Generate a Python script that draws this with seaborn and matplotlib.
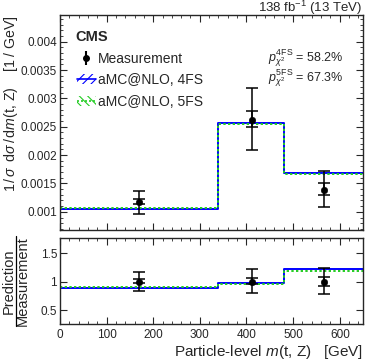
import numpy as np
import pandas as pd
import seaborn as sns
import matplotlib.pyplot as plt
from matplotlib.patches import Patch
from matplotlib.lines import Line2D
from matplotlib.ticker import MultipleLocator

# bin edges of m(t,Z) and the two predictions (normalised)
edges = [0, 340, 480, 650]
pred_4fs = [0.00105, 0.00257, 0.00169]
pred_5fs = [0.00107, 0.00255, 0.00166]

# measurement points with outer (total) and inner (stat) bars
meas_x = [170, 411, 566]
meas_y = [0.001166, 0.00262, 0.00139]
meas_hi = [0.00137, 0.00319, 0.00172]
meas_lo = [0.00097, 0.00209, 0.00109]
meas_in_hi = [0.00122, 0.00278, 0.00150]
meas_in_lo = [0.00114, 0.00250, 0.00129]

# ratio panel
ratio_4fs = [0.895, 0.98, 1.22]
ratio_5fs = [0.91, 0.965, 1.19]
ratio_y = [1.0, 1.0, 1.0]
ratio_hi = [1.175, 1.215, 1.235]
ratio_lo = [0.835, 0.80, 0.785]
ratio_in_hi = [1.045, 1.06, 1.08]
ratio_in_lo = [0.975, 0.955, 0.93]

sns.set_style("ticks")
plt.rcParams['font.family'] = ['Liberation Sans', 'DejaVu Sans']
plt.rcParams['mathtext.fontset'] = 'custom'
plt.rcParams['mathtext.rm'] = 'Liberation Sans'
plt.rcParams['mathtext.it'] = 'Liberation Sans:italic'
plt.rcParams['mathtext.bf'] = 'Liberation Sans:bold'
plt.rcParams['hatch.linewidth'] = 0.8

BLUE = '#0000ff'
GREEN = '#22cc22'

W, H = 374, 363
fig = plt.figure(figsize=(W / 100, H / 100), dpi=100)
ax = fig.add_axes([0.160, 0.3664, 0.811, 0.5923])
rax = fig.add_axes([0.160, 0.1066, 0.811, 0.2369])


def steps(vals):
    return pd.DataFrame({'x': edges, 'y': list(vals) + [vals[-1]]})


def draw_meas(a, x, y, lo, hi, ilo, ihi):
    y = np.array(y)
    a.errorbar(x, y, yerr=[y - np.array(lo), np.array(hi) - y], fmt='none',
               ecolor='black', elinewidth=1.1, capsize=4, capthick=1.1, zorder=5)
    a.errorbar(x, y, yerr=[y - np.array(ilo), np.array(ihi) - y], fmt='none',
               ecolor='black', elinewidth=1.1, capsize=4, capthick=1.1, zorder=5)
    sns.scatterplot(x=x, y=y, ax=a, color='black', s=22, zorder=6, edgecolor='black')


for a, p4, p5 in [(ax, pred_4fs, pred_5fs), (rax, ratio_4fs, ratio_5fs)]:
    sns.lineplot(data=steps(p4), x='x', y='y', ax=a, color=BLUE, lw=1.4,
                 drawstyle='steps-post', estimator=None, sort=False)
    sns.lineplot(data=steps(p5), x='x', y='y', ax=a, color=GREEN, lw=1.4,
                 linestyle=(0, (1.2, 1.2)), drawstyle='steps-post', estimator=None, sort=False)

draw_meas(ax, meas_x, meas_y, meas_lo, meas_hi, meas_in_lo, meas_in_hi)
draw_meas(rax, meas_x, ratio_y, ratio_lo, ratio_hi, ratio_in_lo, ratio_in_hi)

ax.set_xlim(0, 650)
ax.set_ylim(0.00068, 0.00447)
rax.set_xlim(0, 650)
rax.set_ylim(0.25, 1.76)

for a in (ax, rax):
    a.tick_params(which='both', direction='in', top=True, right=True, labelsize=8.5)
    a.tick_params(which='major', length=5)
    a.tick_params(which='minor', length=2.5)
    a.xaxis.set_major_locator(MultipleLocator(100))
    a.xaxis.set_minor_locator(MultipleLocator(20))
    for s in a.spines.values():
        s.set_linewidth(1.0)
ax.yaxis.set_minor_locator(MultipleLocator(0.0001))
ax.set_yticks([0.001, 0.0015, 0.002, 0.0025, 0.003, 0.0035, 0.004])
ax.set_yticklabels(['0.001', '0.0015', '0.002', '0.0025', '0.003', '0.0035', '0.004'])
ax.tick_params(labelbottom=False, pad=2)
rax.set_yticks([0.5, 1, 1.5])
rax.set_yticklabels(['0.5', '1', '1.5'])
rax.tick_params(axis='y', pad=2)

ax.set_xlabel('')
ax.set_ylabel(r'$1\,/\,\mathit{\sigma}\;\;\mathrm{d}\mathit{\sigma}\,/\,\mathrm{d}\mathit{m}$(t, Z)    [1 / GeV]',
              loc='top', fontsize=10.2)
ax.yaxis.set_label_coords(-0.130, 1.0)
rax.set_ylabel('')
rax.set_xlabel(r'Particle-level $m$(t, Z)   [GeV]', loc='right', fontsize=11, labelpad=1)

# Prediction / Measurement as a stacked fraction
fy = 1 - 281 / H
fig.text(9 / W, fy, 'Prediction', rotation=90, ha='center', va='center', fontsize=10.5)
fig.text(23 / W, fy, 'Measurement', rotation=90, ha='center', va='center', fontsize=10.5)
fig.add_artist(Line2D([16 / W, 16 / W], [1 - 236 / H, 1 - 326 / H], color='black', lw=0.9))

fig.text(0.970, 1 - 8 / H, r'138 fb$^{-1}$ (13 TeV)', ha='right', va='center', fontsize=9.5)
ax.text(0.05, 0.93, 'CMS', transform=ax.transAxes, fontsize=10.5, fontweight='bold',
        va='top', ha='left')
ax.text(0.934, 0.80, r'$p^{\mathrm{4FS}}_{\chi^2}$ = 58.2%', transform=ax.transAxes,
        fontsize=9, ha='right', va='center')
ax.text(0.934, 0.705, r'$p^{\mathrm{5FS}}_{\chi^2}$ = 67.3%', transform=ax.transAxes,
        fontsize=9, ha='right', va='center')

h_meas = ax.errorbar([], [], yerr=[], fmt='o', color='black', ms=4, capsize=3)
h4 = (Patch(facecolor='none', edgecolor=BLUE, hatch='////', lw=0),
      Line2D([], [], color=BLUE, lw=1.2))
h5 = (Patch(facecolor='none', edgecolor=GREEN, hatch='\\\\\\\\', lw=0),
      Line2D([], [], color=GREEN, lw=1.2, linestyle=(0, (1.2, 1.2))))
ax.legend([h_meas, h4, h5], ['Measurement', 'aMC@NLO, 4FS', 'aMC@NLO, 5FS'],
          loc='upper left', bbox_to_anchor=(0.055, 0.83), frameon=False, fontsize=10,
          handlelength=1.4, handletextpad=0.15, labelspacing=0.55, borderaxespad=0,
          borderpad=0)

fig.savefig('out.png', dpi=100)
